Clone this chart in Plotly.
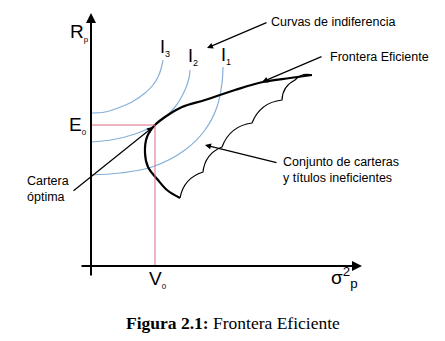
import plotly.graph_objects as go

# ---- data (chart units: x = sigma^2_p, y = R_p, origin at axes crossing) ----
i3_x = [0, 14, 27, 41, 54, 62, 67, 70, 72]
i3_y = [153, 154, 158, 164, 173, 181, 189, 197, 206]
i2_x = [0, 20, 44, 64, 84, 94, 98, 99]
i2_y = [124, 126, 132, 141, 159, 176, 188, 196]
i1_x = [0, 29, 61, 94, 114, 126, 131, 132]
i1_y = [91, 93, 99, 116, 136, 159, 183, 199]
front_x = [89, 76, 67, 57, 54, 56, 64, 77, 91, 114, 144, 172, 199, 221]
front_y = [68, 76, 86, 99, 113, 129, 141, 151, 159, 166, 176, 184, 188, 191]
cusp_x = [221, 204, 191, 161, 131, 112, 89]
cusp_y = [191, 186, 166, 143, 119, 94, 68]
opt_v, opt_e = 64, 141  # V0, E0

BLUE = "#86afd8"
RED = "#dd6b82"
SANS = "Liberation Sans"

fig = go.Figure()
for xs, ys in [(i3_x, i3_y), (i2_x, i2_y), (i1_x, i1_y)]:
    fig.add_trace(go.Scatter(x=xs, y=ys, mode="lines",
                             line=dict(color=BLUE, width=1.2, shape="spline"),
                             hoverinfo="skip"))
fig.add_trace(go.Scatter(x=front_x, y=front_y, mode="lines",
                         line=dict(color="black", width=2.2, shape="spline"),
                         hoverinfo="skip"))

# scalloped boundary of inefficient set
path = f"M {cusp_x[0]},{cusp_y[0]}"
for k in range(len(cusp_x) - 1):
    x0, y0, x1, y1 = cusp_x[k], cusp_y[k], cusp_x[k + 1], cusp_y[k + 1]
    dx, dy = x1 - x0, y1 - y0
    b = 0.3
    cx = (x0 + x1) / 2 + dy * b
    cy = (y0 + y1) / 2 - dx * b
    path += f" Q {cx},{cy} {x1},{y1}"
shapes = [dict(type="path", path=path, xref="x", yref="y",
               line=dict(color="black", width=1.2)),
          dict(type="line", xref="x", yref="y", x0=0, y0=opt_e, x1=opt_v, y1=opt_e,
               line=dict(color=RED, width=1)),
          dict(type="line", xref="x", yref="y", x0=opt_v, y0=opt_e, x1=opt_v, y1=0,
               line=dict(color=RED, width=1))]

ann = []
def arrow(hx, hy, tx, ty, w=1.2, head=2, size=1.0):
    ann.append(dict(x=hx, y=hy, ax=tx, ay=ty, xref="x", yref="y", axref="x", ayref="y",
                    text="", showarrow=True, arrowhead=head, arrowsize=size,
                    arrowwidth=w, arrowcolor="black", standoff=0, startstandoff=0))

arrow(0, 253, 0, -11, w=2, size=1.0)
arrow(271, 0, -11, 0, w=2, size=1.0)
arrow(116, 218, 177, 244)
arrow(171, 184, 232, 210)
arrow(114, 121, 187, 103)
arrow(62, 139, -19, 74)

def label(x, y, t, size=12.5, xa="left", font=SANS):
    ann.append(dict(x=x, y=y, xref="x", yref="y", text=t, showarrow=False,
                    xanchor=xa, yanchor="middle", align="left",
                    font=dict(family=font, size=size, color="black")))

def sub(s, px=8):
    return f'<sub><span style="font-size:{px}px">{s}</span></sub>'

label(178, 244, "Curvas de indiferencia")
label(237, 209, "Frontera Eficiente")
label(190, 96, "Conjunto de carteras<br>y títulos ineficientes")
label(-66, 77, "Cartera<br>óptima")
label(-12, 234, "R" + sub("p"), size=19, xa="center")
label(-13, 141, "E" + sub("0"), size=19, xa="center")
label(67, -13, "V" + sub("0"), size=19, xa="center")
label(238, -11, "σ<sup>2</sup><sub>p</sub>", size=19)
label(74, 218, "I" + sub("3", 9), size=18, xa="center")
label(102, 209, "I" + sub("2", 9), size=18, xa="center")
label(135, 210, "I" + sub("1", 9), size=18, xa="center")
label(142, -57, "<b>Figura 2.1:</b> Frontera Eficiente", size=17.5, xa="center",
      font="Liberation Serif")

fig.update_layout(
    width=445, height=341, margin=dict(l=0, r=0, t=0, b=0),
    paper_bgcolor="white", plot_bgcolor="white", showlegend=False,
    xaxis=dict(range=[-91, 354], visible=False, fixedrange=True),
    yaxis=dict(range=[-75, 266], visible=False, fixedrange=True),
    shapes=shapes, annotations=ann,
)
fig.write_html("out.html")
